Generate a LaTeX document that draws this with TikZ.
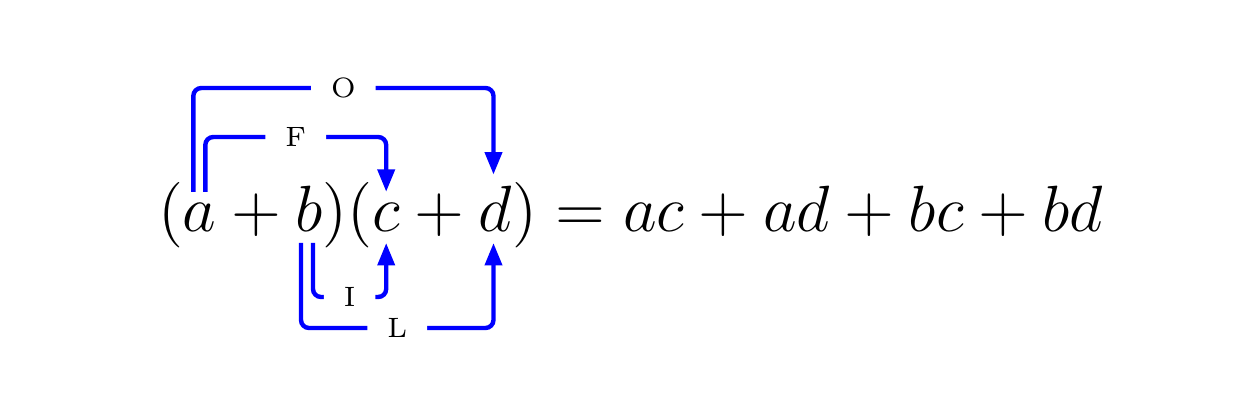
\documentclass[tikz,border=0pt]{standalone}
\usepackage{fix-cm}
\usetikzlibrary{arrows.meta,calc}
\begin{document}
\begin{tikzpicture}[x=0.25pt,y=-0.25pt,
  eq/.style={inner sep=0pt,outer sep=0pt,anchor=base west,font=\fontsize{16.35}{19}\selectfont},
  link/.style={draw=blue,line width=1.1pt,rounded corners=2pt},
  tip/.style={-{Triangle[length=5.6pt,width=4.2pt]}},
  lbl/.style={fill=white,inner xsep=5pt,inner ysep=1pt,font=\fontsize{7}{8}\selectfont}]
\useasboundingbox (0,0) rectangle (1256,406);
% equation
\node[eq] (lp) at (158,232) {$($};
\node[eq] (a) at (lp.base east) {$a$};
\node[eq] (p1) at (a.base east) {${}+{}$};
\node[eq] (b) at (p1.base east) {$b$};
\node[eq] (mid) at (b.base east) {$)($};
\node[eq] (c) at (mid.base east) {$c$};
\node[eq] (p2) at (c.base east) {${}+{}$};
\node[eq] (d) at (p2.base east) {$d$};
\node[eq] (rest) at (d.base east) {$)=ac+ad+bc+bd$};
% levels
\coordinate (yO) at (0,88);
\coordinate (yF) at (0,137);
\coordinate (yI) at (0,297);
\coordinate (yL) at (0,328);
% end points
\coordinate (oS) at ([xshift=-1.6pt,yshift=3pt]a.north);
\coordinate (fS) at ([xshift=1.4pt,yshift=3pt]a.north);
\coordinate (fE) at ([yshift=3pt]c.north);
\coordinate (oE) at ([xshift=-0.5pt,yshift=3pt]d.north);
\coordinate (lS) at ([xshift=-2pt,yshift=-2.75pt]b.south);
\coordinate (iS) at ([xshift=1pt,yshift=-2.75pt]b.south);
\coordinate (iE) at ([yshift=-2.75pt]c.south);
\coordinate (lE) at ([xshift=-0.5pt,yshift=-2.75pt]d.south);
% connectors
\draw[link,tip] (oS) -- (oS |- yO) -- node[lbl]{O} (oE |- yO) -- (oE);
\draw[link,tip] (fS) -- (fS |- yF) -- node[lbl]{F} (fE |- yF) -- (fE);
\draw[link,tip] (iS) -- (iS |- yI) -- node[lbl]{I} (iE |- yI) -- (iE);
\draw[link,tip] (lS) -- (lS |- yL) -- node[lbl]{L} (lE |- yL) -- (lE);
\end{tikzpicture}
\end{document}
